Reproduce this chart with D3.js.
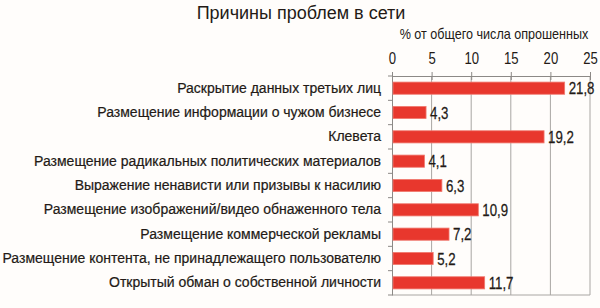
<!DOCTYPE html>
<html><head><meta charset="utf-8">
<script src="https://cdn.jsdelivr.net/npm/d3@7"></script>
<style>
html,body{margin:0;padding:0;background:#fffdfb;}
svg{display:block;}
text{font-family:"Liberation Sans",Arial,sans-serif;fill:#231a16;}
</style></head>
<body>
<svg id="chart" width="600" height="308"></svg>
<script>
const categories = [
  "Раскрытие данных третьих лиц",
  "Размещение информации о чужом бизнесе",
  "Клевета",
  "Размещение радикальных политических материалов",
  "Выражение ненависти или призывы к насилию",
  "Размещение изображений/видео обнаженного тела",
  "Размещение коммерческой рекламы",
  "Размещение контента, не принадлежащего пользователю",
  "Открытый обман о собственной личности"
];
const values = [21.8, 4.3, 19.2, 4.1, 6.3, 10.9, 7.2, 5.2, 11.7];
const tickValues = [0, 5, 10, 15, 20, 25];
const title = "Причины проблем в сети";
const axisTitle = "% от общего числа опрошенных";

const svg = d3.select("#chart");
const m = {left: 392, right: 590, top: 76, bottom: 295};
const x = d3.scaleLinear().domain([0, 25]).range([m.left, m.right]);
const y = d3.scaleBand().domain(categories).range([m.top, m.bottom]).paddingInner(0.5).paddingOuter(0.25);
const fmt = v => d3.format(".1f")(v).replace(".", ",");

svg.append("text").attr("x", 301).attr("y", 19).attr("text-anchor", "middle")
  .style("font-size", "18px").text(title);
svg.append("text").attr("transform", "translate(494,39) scale(0.9,1)").attr("text-anchor", "middle")
  .style("font-size", "14px").text(axisTitle);

// gridlines
svg.append("g").selectAll("line").data(tickValues.slice(1)).join("line")
  .attr("x1", d => x(d)).attr("x2", d => x(d)).attr("y1", m.top).attr("y2", m.bottom)
  .attr("stroke", "#a9a6a3").attr("stroke-width", 1);

// bottom line
svg.append("line").attr("x1", m.left).attr("x2", m.right).attr("y1", m.bottom).attr("y2", m.bottom)
  .attr("stroke", "#a9a6a3");

// top axis
const xAxis = d3.axisTop(x).tickValues(tickValues).tickSize(4).tickPadding(10).tickFormat(d3.format("d"));
const gx = svg.append("g").attr("transform", `translate(0,${m.top})`).call(xAxis);
gx.select(".domain").attr("stroke", "#8c8986");
gx.selectAll(".tick line").attr("stroke", "#8c8986").attr("y1", 4);
gx.selectAll(".tick text").style("font-size", "16px").attr("fill", "#231a16")
  .attr("y", null).attr("dy", null)
  .attr("transform", "translate(0,-12) scale(0.82,1)");

// left axis
const gy = svg.append("g").attr("transform", `translate(${m.left},0)`)
  .call(d3.axisLeft(y).tickSize(0).tickPadding(11));
gy.select(".domain").attr("stroke", "#8c8986");
gy.selectAll(".tick text").style("font-size", "14px").attr("fill", "#231a16")
  .attr("stroke", "#231a16").attr("stroke-width", 0.2);
// separator ticks between categories
const step = y.step();
svg.append("g").selectAll("line").data(d3.range(categories.length + 1)).join("line")
  .attr("x1", m.left - 4).attr("x2", m.left)
  .attr("y1", i => m.top + i * step).attr("y2", i => m.top + i * step)
  .attr("stroke", "#8c8986");

// bars
svg.append("g").selectAll("rect").data(values).join("rect")
  .attr("x", x(0) + 1).attr("y", (d, i) => y(categories[i]))
  .attr("width", d => x(d) - x(0) - 1).attr("height", y.bandwidth())
  .attr("fill", "#e8372d").attr("stroke", "#f07a70").attr("stroke-width", 0.8);

// value labels
svg.append("g").selectAll("text").data(values).join("text")
  .attr("transform", (d, i) => `translate(${x(d) + 4},${y(categories[i]) + y.bandwidth() / 2}) scale(0.78,1)`)
  .attr("dy", "0.36em")
  .attr("stroke", "#231a16").attr("stroke-width", 0.25)
  .style("font-size", "17px").text(fmt);
</script>
</body></html>
